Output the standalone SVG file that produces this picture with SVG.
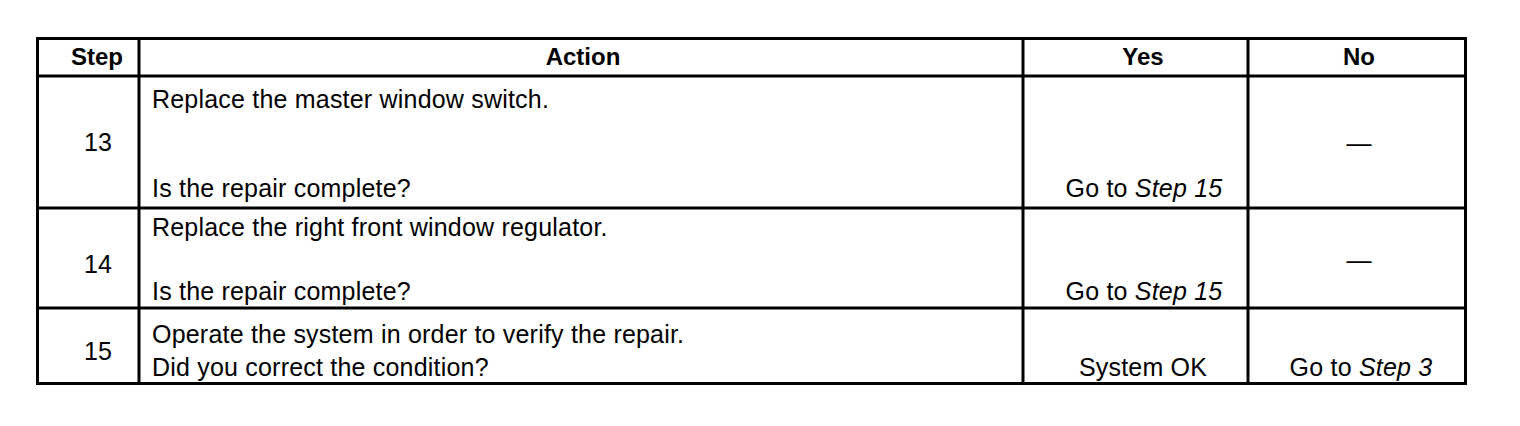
<svg xmlns="http://www.w3.org/2000/svg" width="1520" height="426" viewBox="0 0 1520 426">
<style>
.t{font-family:"Liberation Sans",Arial,sans-serif;font-size:25px;letter-spacing:0.2px;fill:#000}
.h{font-weight:bold;font-size:24px;letter-spacing:0}
.c{text-anchor:middle}
.i{font-style:italic}
.ln{stroke:#000;stroke-width:3;fill:none}
</style>
<rect width="1520" height="426" fill="#fff"/>
<g id="grid">
<rect class="ln" x="37.5" y="38.5" width="1428" height="345"/>
<line class="ln" x1="37" y1="76" x2="1466" y2="76"/>
<line class="ln" x1="37" y1="208" x2="1466" y2="208"/>
<line class="ln" x1="37" y1="308" x2="1466" y2="308"/>
<line class="ln" x1="139" y1="38" x2="139" y2="384"/>
<line class="ln" x1="1023" y1="38" x2="1023" y2="384"/>
<line class="ln" x1="1248" y1="38" x2="1248" y2="384"/>
</g>
<g id="header">
<text class="t h c" x="97" y="65">Step</text>
<text class="t h c" x="583" y="65">Action</text>
<text class="t h c" x="1143" y="65">Yes</text>
<text class="t h c" x="1359" y="65">No</text>
</g>
<g id="row13">
<text class="t c" x="98" y="151">13</text>
<text class="t" x="152" y="108">Replace the master window switch.</text>
<text class="t" x="152" y="197">Is the repair complete?</text>
<text class="t c" x="1144" y="197">Go to <tspan class="i">Step 15</tspan></text>
<text class="t c" x="1359" y="152">—</text>
</g>
<g id="row14">
<text class="t c" x="98" y="273">14</text>
<text class="t" x="152" y="236">Replace the right front window regulator.</text>
<text class="t" x="152" y="300">Is the repair complete?</text>
<text class="t c" x="1144" y="300">Go to <tspan class="i">Step 15</tspan></text>
<text class="t c" x="1359" y="269">—</text>
</g>
<g id="row15">
<text class="t c" x="98" y="360">15</text>
<text class="t" x="152" y="343">Operate the system in order to verify the repair.</text>
<text class="t" x="152" y="376">Did you correct the condition?</text>
<text class="t c" x="1143" y="376">System OK</text>
<text class="t c" x="1361" y="376">Go to <tspan class="i">Step 3</tspan></text>
</g>
</svg>
